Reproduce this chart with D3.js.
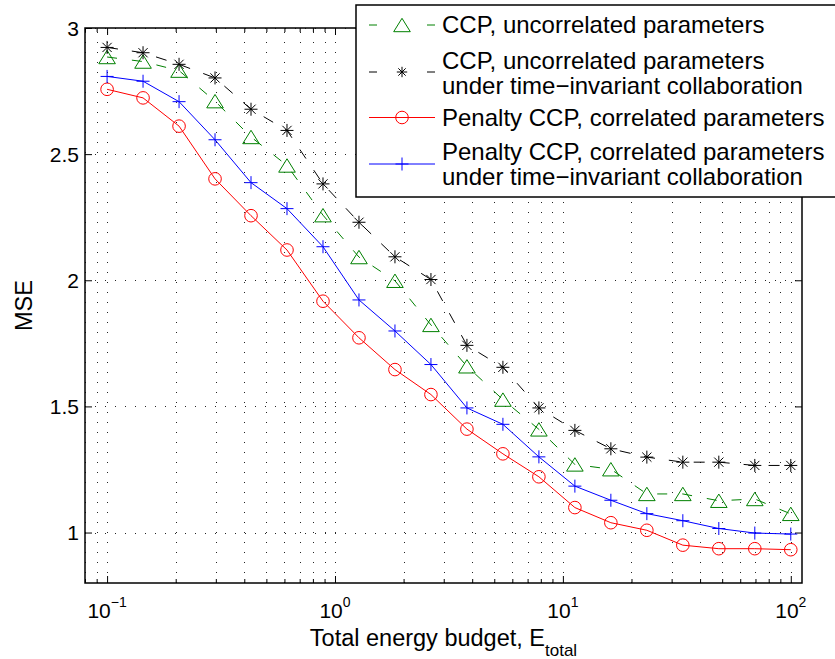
<!DOCTYPE html>
<html>
<head>
<meta charset="utf-8">
<script src="https://cdn.jsdelivr.net/npm/d3@7"></script>
<style>
  html, body { margin: 0; padding: 0; background: #fff; }
  svg { display: block; font-family: "Liberation Sans", Arial, Helvetica, sans-serif; }
</style>
</head>
<body>
<svg id="chart" width="835" height="659"></svg>
<script>
// Total energy budget values (log-spaced, 20 points per curve)
const energy = [0.1, 0.1438, 0.2069, 0.2976, 0.4281, 0.6158, 0.8859, 1.2743, 1.8330, 2.6367,
                3.7927, 5.4556, 7.8476, 11.288, 16.238, 23.357, 33.598, 48.329, 69.519, 100];

// MSE of each scheme
const mseCcpUncorrelated = [2.885, 2.867, 2.831, 2.710, 2.568, 2.455, 2.258, 2.092, 1.998, 1.823,
                            1.659, 1.527, 1.409, 1.270, 1.251, 1.153, 1.153, 1.126, 1.133, 1.074];
const mseCcpTimeInvariant = [2.923, 2.902, 2.856, 2.802, 2.678, 2.594, 2.382, 2.230, 2.093, 2.003,
                             1.742, 1.655, 1.494, 1.405, 1.332, 1.299, 1.279, 1.279, 1.266, 1.266];
const msePenaltyCorrelated = [2.757, 2.723, 2.611, 2.402, 2.256, 2.120, 1.917, 1.772, 1.646, 1.547,
                              1.410, 1.312, 1.221, 1.099, 1.039, 1.009, 0.950, 0.936, 0.936, 0.932];
const msePenaltyTimeInvariant = [2.808, 2.789, 2.708, 2.557, 2.387, 2.284, 2.133, 1.922, 1.799, 1.666,
                                 1.494, 1.429, 1.300, 1.184, 1.128, 1.075, 1.047, 1.016, 0.998, 0.994];

const legendLabels = [
  ["CCP, uncorrelated parameters"],
  ["CCP, uncorrelated parameters", "under time\u2212invariant collaboration"],
  ["Penalty CCP, correlated parameters"],
  ["Penalty CCP, correlated parameters", "under time\u2212invariant collaboration"]
];

const yTickValues = [1, 1.5, 2, 2.5, 3];
const yTickLabels = ["1", "1.5", "2", "2.5", "3"];
const xTickExponents = [-1, 0, 1, 2];
const xLabelMain = "Total energy budget, E";
const xLabelSub = "total";
const yLabel = "MSE";

// Drawing styles for each curve
const seriesStyles = [
  { values: mseCcpUncorrelated,     color: "#008000", dash: "10,15", marker: "triangle" },
  { values: mseCcpTimeInvariant,    color: "#000000", dash: "11,14", marker: "star" },
  { values: msePenaltyCorrelated,   color: "#ff0000", dash: null,    marker: "circle" },
  { values: msePenaltyTimeInvariant,color: "#0000ff", dash: null,    marker: "plus" }
];

const box = { left: 85, right: 802, top: 28, bottom: 583 };

const svg = d3.select("#chart");

const x = d3.scaleLog().domain([0.08, 112]).range([box.left, box.right]);
const y = d3.scaleLinear().domain([0.8, 3]).range([box.bottom, box.top]);

// Grid (dotted)
const grid = svg.append("g").attr("stroke", "#000").attr("stroke-width", 1)
  .attr("stroke-dasharray", "1,9").attr("fill", "none").attr("opacity", 0.85);
const xGridTicks = x.ticks();
grid.selectAll("line.vx").data(xGridTicks).join("line")
  .attr("x1", d => Math.round(x(d)) + 0.5).attr("x2", d => Math.round(x(d)) + 0.5)
  .attr("y1", box.bottom).attr("y2", box.top);
grid.selectAll("line.hy").data(yTickValues).join("line")
  .attr("x1", box.left).attr("x2", box.right)
  .attr("y1", d => Math.round(y(d)) + 0.5).attr("y2", d => Math.round(y(d)) + 0.5);

// Tick marks on all four sides, pointing inward
const isMajor = d => Math.abs(Math.log10(d) - Math.round(Math.log10(d))) < 1e-9;
const majorX = xGridTicks.filter(isMajor);
const minorX = xGridTicks.filter(d => !isMajor(d));

function tickAxis(gen, tx, ty) {
  const g = svg.append("g").attr("transform", `translate(${tx},${ty})`).call(gen);
  g.select(".domain").remove();
  g.selectAll("text").remove();
  g.selectAll("line").attr("stroke", "#000").attr("stroke-width", 1);
  return g;
}
tickAxis(d3.axisBottom(x).tickValues(majorX).tickSizeInner(-7).tickSizeOuter(0), 0, box.bottom);
tickAxis(d3.axisBottom(x).tickValues(minorX).tickSizeInner(-4).tickSizeOuter(0), 0, box.bottom);
tickAxis(d3.axisTop(x).tickValues(majorX).tickSizeInner(-7).tickSizeOuter(0), 0, box.top);
tickAxis(d3.axisTop(x).tickValues(minorX).tickSizeInner(-4).tickSizeOuter(0), 0, box.top);
tickAxis(d3.axisLeft(y).tickValues(yTickValues).tickSizeInner(-7).tickSizeOuter(0), box.left, 0);
tickAxis(d3.axisRight(y).tickValues(yTickValues).tickSizeInner(-7).tickSizeOuter(0), box.right, 0);

// Curves
const markerPath = {
  triangle: "M0,-6.7L8.3,6.7L-8.3,6.7Z",
  plus: "M-6.5,0H6.5M0,-6.5V6.5",
  star: "M-6.5,0H6.5M0,-6.5V6.5M-4.6,-4.6L4.6,4.6M-4.6,4.6L4.6,-4.6"
};
function drawMarker(g, type, color, scale) {
  if (type === "circle") {
    g.append("circle").attr("r", 6.3 * scale).attr("fill", "none")
      .attr("stroke", color).attr("stroke-width", 1);
  } else {
    g.append("path").attr("d", markerPath[type])
      .attr("transform", scale !== 1 ? `scale(${scale})` : null)
      .attr("fill", "none").attr("stroke", color).attr("stroke-width", 1 / scale);
  }
}

const line = d3.line().x((d, i) => x(energy[i])).y(d => y(d));
const plot = svg.append("g");
seriesStyles.forEach(s => {
  plot.append("path").datum(s.values).attr("d", line)
    .attr("fill", "none").attr("stroke", s.color).attr("stroke-width", 1)
    .attr("stroke-dasharray", s.dash);
  s.values.forEach((v, i) => {
    const m = plot.append("g").attr("transform", `translate(${x(energy[i])},${y(v)})`);
    drawMarker(m, s.marker, s.color, 1);
  });
});

// Axes box
svg.append("rect").attr("x", box.left).attr("y", box.top)
  .attr("width", box.right - box.left).attr("height", box.bottom - box.top)
  .attr("fill", "none").attr("stroke", "#000").attr("stroke-width", 1.5);

// Y tick labels
svg.append("g").selectAll("text").data(yTickValues).join("text")
  .attr("x", box.left - 6).attr("y", d => y(d) + 7.5)
  .attr("text-anchor", "end").attr("font-size", 21).attr("fill", "#000")
  .text((d, i) => yTickLabels[i]);

// X tick labels: 10^k
const xl = svg.append("g").selectAll("text").data(xTickExponents).join("text")
  .attr("x", d => x(Math.pow(10, d))).attr("y", 618)
  .attr("text-anchor", "middle").attr("fill", "#000").attr("font-size", 21);
xl.append("tspan").text("10");
xl.append("tspan").attr("font-size", 14).attr("dy", -11)
  .text(d => String(d).replace("-", "\u2212"));

// Axis labels
const xt = svg.append("text").attr("x", (box.left + box.right) / 2).attr("y", 646)
  .attr("text-anchor", "middle").attr("font-size", 23.5).attr("fill", "#000");
xt.append("tspan").text(xLabelMain);
xt.append("tspan").attr("font-size", 17).attr("dy", 10).text(xLabelSub);

svg.append("text").attr("transform", `translate(32,${(box.top + box.bottom) / 2}) rotate(-90)`)
  .attr("text-anchor", "middle").attr("font-size", 23.5).attr("fill", "#000").text(yLabel);

// Legend
const legend = svg.append("g");
legend.append("rect").attr("x", 356).attr("y", 5).attr("width", 490).attr("height", 192)
  .attr("fill", "#fff").attr("stroke", "#000").attr("stroke-width", 1.5);
const legendSampleY = [25, 72, 117.5, 164];
const legendBaselines = [[33.3], [69.3, 94.3], [126], [160, 185]];
seriesStyles.forEach((s, i) => {
  const sy = legendSampleY[i];
  legend.append("line").attr("x1", 369).attr("x2", 435).attr("y1", sy).attr("y2", sy)
    .attr("stroke", s.color).attr("stroke-width", 1)
    .attr("stroke-dasharray", s.dash ? "8,50,8" : null);
  const m = legend.append("g").attr("transform", `translate(402,${sy})`);
  drawMarker(m, s.marker, s.color, s.marker === "star" ? 0.8 : 1);
  legendLabels[i].forEach((t, j) => {
    legend.append("text").attr("x", 442).attr("y", legendBaselines[i][j])
      .attr("font-size", 24).attr("fill", "#000").text(t);
  });
});
</script>
</body>
</html>
